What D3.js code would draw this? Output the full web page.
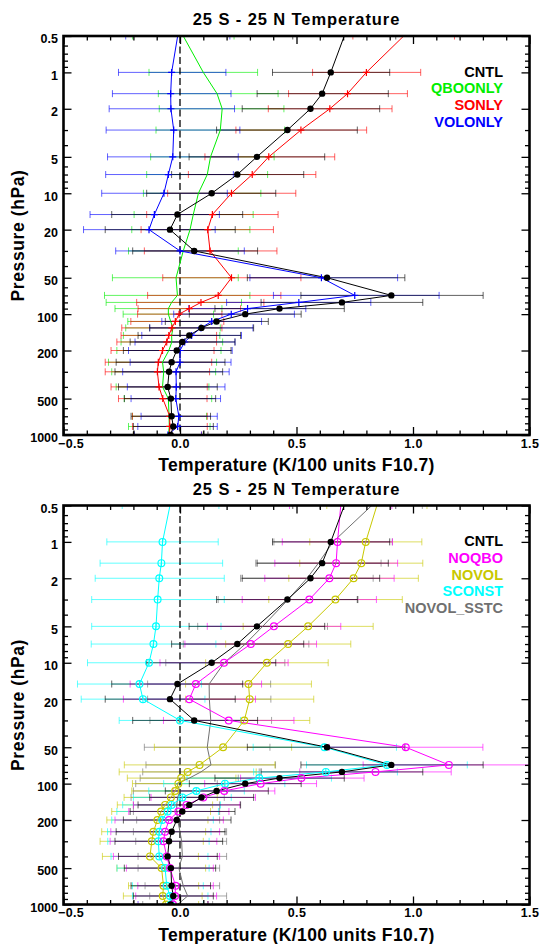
<!DOCTYPE html>
<html><head><meta charset="utf-8">
<script src="https://cdn.jsdelivr.net/npm/d3@7"></script>
<style>
body{margin:0;background:#fff}
text{font-family:"Liberation Sans",Arial,Helvetica,sans-serif;font-weight:bold}
</style>
</head><body>
<svg id="c" width="540" height="944"></svg>
<script>
// ---------- DATA ----------
const levels = [0.5,1,1.5,2,3,5,7,10,15,20,30,50,70,80,90,100,115,130,150,170,200,250,300,400,500,700,850,1000];

const cntl   = [0.705,0.647,0.61,0.56,0.461,0.33,0.246,0.136,-0.011,-0.043,0.061,0.631,0.907,0.695,0.427,0.28,0.157,0.092,0.04,0.01,-0.014,-0.036,-0.047,-0.053,-0.039,-0.036,-0.029,-0.04];
const cntlLo = [0.484,0.397,0.331,0.267,0.157,0.039,-0.036,-0.143,-0.293,-0.321,-0.203,0.289,0.519,0.348,0.15,0.04,-0.063,-0.13,-0.18,-0.214,-0.243,-0.274,-0.279,-0.264,-0.239,-0.21,-0.2,-0.2];
const cntlHi = [0.926,0.9,0.894,0.857,0.761,0.621,0.531,0.411,0.269,0.237,0.333,0.965,1.301,1.042,0.705,0.52,0.379,0.316,0.26,0.236,0.219,0.193,0.183,0.16,0.153,0.131,0.143,0.12];

const qbo   = [0.014,0.1,0.159,0.181,0.173,0.131,0.117,0.079,0.057,0.043,0.014,-0.017,-0.011,-0.036,-0.05,-0.05,-0.04,-0.03,-0.036,-0.035,-0.048,-0.075,-0.07,-0.075,-0.05,-0.047,-0.046,-0.05];
const qboLo = [-0.204,-0.133,-0.093,-0.089,-0.103,-0.126,-0.143,-0.157,-0.197,-0.207,-0.221,-0.29,-0.324,-0.317,-0.279,-0.244,-0.224,-0.233,-0.243,-0.253,-0.271,-0.307,-0.293,-0.274,-0.239,-0.204,-0.221,-0.2];
const qboHi = [0.232,0.333,0.421,0.446,0.449,0.404,0.376,0.347,0.314,0.3,0.25,0.25,0.3,0.264,0.18,0.144,0.15,0.173,0.171,0.183,0.176,0.157,0.153,0.124,0.136,0.114,0.129,0.1];

const son   = [0.96,0.8,0.719,0.643,0.519,0.381,0.31,0.221,0.139,0.119,0.129,0.221,0.164,0.09,0.04,-0.004,-0.02,-0.035,-0.048,-0.057,-0.075,-0.093,-0.097,-0.09,-0.074,-0.044,-0.044,-0.045];
const sonLo = [0.742,0.569,0.466,0.379,0.24,0.107,0.036,-0.053,-0.143,-0.167,-0.153,-0.074,-0.139,-0.186,-0.18,-0.182,-0.211,-0.25,-0.253,-0.271,-0.296,-0.321,-0.321,-0.296,-0.264,-0.204,-0.204,-0.2];
const sonHi = [1.178,1.033,0.976,0.91,0.801,0.664,0.583,0.497,0.421,0.401,0.416,0.519,0.433,0.36,0.26,0.18,0.188,0.18,0.157,0.157,0.146,0.136,0.127,0.117,0.116,0.117,0.117,0.093];

const vol   = [-0.01,-0.036,-0.04,-0.039,-0.027,-0.031,-0.05,-0.069,-0.11,-0.133,0.0,0.607,0.75,0.51,0.29,0.22,0.136,0.09,0.05,0.02,0.0,0.0,-0.017,-0.016,-0.018,-0.005,-0.01,-0.052];
const volLo = [-0.233,-0.264,-0.29,-0.304,-0.317,-0.311,-0.319,-0.336,-0.386,-0.414,-0.276,0.3,0.401,0.2,0.037,-0.027,-0.078,-0.13,-0.164,-0.193,-0.221,-0.214,-0.246,-0.226,-0.21,-0.167,-0.181,-0.196];
const volHi = [0.214,0.197,0.219,0.234,0.257,0.25,0.229,0.203,0.169,0.151,0.276,0.934,1.112,0.819,0.54,0.491,0.35,0.313,0.264,0.236,0.224,0.219,0.211,0.193,0.174,0.16,0.16,0.092];

const noqbo   = [0.69,0.676,0.67,0.641,0.555,0.403,0.304,0.189,0.068,0.04,0.209,0.969,1.154,0.839,0.521,0.346,0.19,0.1,0.028,-0.007,-0.047,-0.064,-0.071,-0.057,-0.043,-0.019,-0.021,-0.03];
const noqboLo = [0.47,0.439,0.407,0.364,0.267,0.117,0.021,-0.086,-0.214,-0.243,-0.071,0.64,0.786,0.514,0.26,0.106,-0.03,-0.124,-0.2,-0.22,-0.279,-0.297,-0.3,-0.286,-0.23,-0.181,-0.19,-0.18];
const noqboHi = [0.909,0.912,0.934,0.919,0.843,0.69,0.586,0.464,0.35,0.324,0.489,1.3,1.52,1.164,0.79,0.586,0.407,0.324,0.257,0.21,0.186,0.17,0.158,0.17,0.143,0.143,0.157,0.12];

const novol   = [0.845,0.797,0.778,0.745,0.667,0.55,0.464,0.373,0.294,0.299,0.276,0.185,0.084,0.033,0.005,-0.007,-0.021,-0.039,-0.064,-0.081,-0.097,-0.114,-0.121,-0.129,-0.079,-0.071,-0.074,-0.06];
const novolLo = [0.63,0.557,0.514,0.467,0.381,0.271,0.196,0.11,0.024,0.024,-0.005,-0.11,-0.239,-0.261,-0.226,-0.204,-0.207,-0.24,-0.269,-0.293,-0.314,-0.336,-0.343,-0.333,-0.271,-0.221,-0.243,-0.2];
const novolHi = [1.06,1.038,1.042,1.023,0.954,0.829,0.733,0.636,0.564,0.574,0.557,0.479,0.407,0.327,0.24,0.19,0.165,0.16,0.14,0.131,0.12,0.11,0.1,0.079,0.11,0.08,0.095,0.08];

const sconst   = [-0.043,-0.075,-0.08,-0.089,-0.096,-0.103,-0.114,-0.133,-0.174,-0.159,0.0,0.62,0.888,0.626,0.34,0.193,0.07,0.01,-0.036,-0.053,-0.076,-0.089,-0.093,-0.089,-0.064,-0.057,-0.043,-0.04];
const sconstLo = [-0.248,-0.314,-0.343,-0.364,-0.379,-0.379,-0.381,-0.397,-0.44,-0.424,-0.261,0.314,0.543,0.316,0.03,-0.07,-0.134,-0.2,-0.246,-0.271,-0.293,-0.311,-0.31,-0.296,-0.27,-0.204,-0.204,-0.18];
const sconstHi = [0.167,0.164,0.183,0.19,0.19,0.176,0.154,0.136,0.092,0.107,0.26,0.929,1.233,0.933,0.65,0.45,0.276,0.22,0.174,0.165,0.143,0.133,0.125,0.12,0.125,0.1,0.12,0.1];

const sstc   = [0.823,0.657,0.594,0.545,0.464,0.355,0.28,0.19,0.125,0.126,0.132,0.117,0.133,0.09,0.04,-0.014,0.0,-0.01,-0.014,-0.014,-0.01,0.0,0.007,0.01,-0.005,0.014,0.033,-0.01];
const sstcLo = [0.6,0.403,0.325,0.26,0.164,0.076,0.014,-0.061,-0.139,-0.139,-0.129,-0.153,-0.146,-0.16,-0.171,-0.19,-0.2,-0.21,-0.2,-0.2,-0.186,-0.2,-0.19,-0.18,-0.18,-0.15,-0.13,-0.16];
const sstcHi = [1.04,0.911,0.863,0.829,0.764,0.633,0.553,0.45,0.389,0.39,0.393,0.386,0.41,0.34,0.25,0.16,0.2,0.19,0.17,0.17,0.17,0.2,0.2,0.2,0.17,0.17,0.2,0.14];

const yTickLabels = [0.5,1,2,5,10,20,50,100,200,500,1000];
const xTickLabels = [-0.5,0.0,0.5,1.0,1.5];
const titleText = "25 S - 25 N Temperature";
const xTitle = "Temperature (K/100 units F10.7)";
const yTitle = "Pressure (hPa)";

// ---------- DRAW ----------
const svg = d3.select('#c');
svg.append('rect').attr('width',540).attr('height',944).attr('fill','#fff');
const L = 63.5, R = 529.5, H = 399;
const x = d3.scaleLinear().domain([-0.5,1.5]).range([L,R]);

function minorLog(){
  const out=[];
  [0.1,1,10,100].forEach(d=>{for(let k=1;k<=9;k++){const v=+(k*d).toFixed(4); if(v>=0.5&&v<=1000&&!yTickLabels.includes(v)) out.push(v);}});
  return out;
}

function panel(idx, top, series, legend){
  const B = top+H;
  const y = d3.scaleLog().domain([0.5,1000]).range([top,B]);
  const g = svg.append('g');
  const cid = 'clip'+idx;
  g.append('clipPath').attr('id',cid).append('rect').attr('x',L).attr('y',top).attr('width',R-L).attr('height',H);
  const pg = g.append('g').attr('clip-path',`url(#${cid})`);

  // error bars
  series.forEach(s=>{
    const eg = pg.append('g').attr('stroke',s.color).attr('stroke-opacity',0.62).attr('stroke-width',1);
    levels.forEach((p,i)=>{
      const yy=y(p), x0=x(s.lo[i]), x1=x(s.hi[i]);
      eg.append('line').attr('x1',x0).attr('x2',x1).attr('y1',yy).attr('y2',yy);
      eg.append('line').attr('x1',x0).attr('x2',x0).attr('y1',yy-3.5).attr('y2',yy+3.5);
      eg.append('line').attr('x1',x1).attr('x2',x1).attr('y1',yy-3.5).attr('y2',yy+3.5);
    });
  });
  // zero line
  pg.append('line').attr('x1',x(0)).attr('x2',x(0)).attr('y1',top).attr('y2',B)
    .attr('stroke','#000').attr('stroke-width',1.3).attr('stroke-dasharray','7,3.5');
  // lines
  const line = d3.line().x(d=>x(d[1])).y(d=>y(d[0]));
  series.forEach(s=>{
    pg.append('path').attr('d',line(levels.map((p,i)=>[p,s.v[i]])))
      .attr('fill','none').attr('stroke',s.color).attr('stroke-width',1);
  });
  // markers
  series.forEach(s=>{
    const mg = pg.append('g');
    levels.forEach((p,i)=>{
      if(p<1) return;
      const cx=x(s.v[i]), cy=y(p);
      if(s.mark==='dot') mg.append('circle').attr('cx',cx).attr('cy',cy).attr('r',3.2).attr('fill',s.color);
      else if(s.mark==='ring') mg.append('circle').attr('cx',cx).attr('cy',cy).attr('r',3.4).attr('fill','none').attr('stroke',s.color).attr('stroke-width',1.2);
      else if(s.mark==='oplus'){
        mg.append('circle').attr('cx',cx).attr('cy',cy).attr('r',3.4).attr('fill','none').attr('stroke',s.color).attr('stroke-width',1.2);
        mg.append('line').attr('x1',cx).attr('x2',cx).attr('y1',cy-3.4).attr('y2',cy+3.4).attr('stroke',s.color);
      } else if(s.mark==='plus'){
        mg.append('line').attr('x1',cx).attr('x2',cx).attr('y1',cy-3.5).attr('y2',cy+3.5).attr('stroke',s.color).attr('stroke-width',1.2);
        mg.append('line').attr('x1',cx-3.5).attr('x2',cx+3.5).attr('y1',cy).attr('y2',cy).attr('stroke',s.color).attr('stroke-width',1.2);
      }
    });
  });

  // axes
  const fmtY = d=> String(d);
  const ax = (gen, tr)=>{ const a=g.append('g').attr('transform',tr).call(gen); a.select('.domain').remove(); a.selectAll('line').attr('stroke','#000').attr('stroke-width',1.3); return a; };
  const yl = ax(d3.axisLeft(y).tickValues(yTickLabels).tickSize(-8).tickPadding(5.5).tickFormat(fmtY), `translate(${L},0)`);
  yl.selectAll('text').attr('font-size',12.5).attr('dy','0.55em').attr('fill','#000');
  ax(d3.axisLeft(y).tickValues(minorLog()).tickSize(-4.5).tickFormat(''), `translate(${L},0)`);
  ax(d3.axisRight(y).tickValues(yTickLabels).tickSize(-8).tickFormat(''), `translate(${R},0)`);
  ax(d3.axisRight(y).tickValues(minorLog()).tickSize(-4.5).tickFormat(''), `translate(${R},0)`);
  const xminor = d3.range(-5,16).map(k=>k/10).filter(v=>!xTickLabels.some(t=>Math.abs(t-v)<1e-6));
  const xb = ax(d3.axisBottom(x).tickValues(xTickLabels).tickSize(-8).tickPadding(4).tickFormat(d3.format('.1f')), `translate(0,${B})`);
  xb.selectAll('text').attr('font-size',12.5).attr('letter-spacing',0.3).attr('fill','#000')
    .attr('dx',d=> d<0 ? 7 : 0);
  ax(d3.axisBottom(x).tickValues(xminor).tickSize(-4.5).tickFormat(''), `translate(0,${B})`);
  ax(d3.axisTop(x).tickValues(xTickLabels).tickSize(-8).tickFormat(''), `translate(0,${top})`);
  ax(d3.axisTop(x).tickValues(xminor).tickSize(-4.5).tickFormat(''), `translate(0,${top})`);

  // frame
  g.append('rect').attr('x',L).attr('y',top).attr('width',R-L).attr('height',H)
    .attr('fill','none').attr('stroke','#000').attr('stroke-width',2.6);

  // titles
  g.append('text').attr('x',(L+R)/2).attr('y',top-11).attr('text-anchor','middle')
    .attr('font-size',16.5).attr('letter-spacing',0.9).text(titleText);
  g.append('text').attr('x',(L+R)/2).attr('y',B+36).attr('text-anchor','middle')
    .attr('font-size',17.5).attr('letter-spacing',0.4).text(xTitle);
  g.append('text').attr('transform',`translate(24,${(top+B)/2}) rotate(-90)`).attr('text-anchor','middle')
    .attr('font-size',17.5).attr('letter-spacing',0.6).text(yTitle);

  // legend
  legend.forEach((s,i)=>{
    g.append('text').attr('x',503).attr('y',top+40.5+i*16.8).attr('text-anchor','end')
      .attr('font-size',14.5).attr('fill',s.color).text(s.name);
  });
}

const sCNTL   = {name:'CNTL', color:'#000000', v:cntl, lo:cntlLo, hi:cntlHi, mark:'dot'};
const sQBO    = {name:'QBOONLY', color:'#00ee00', v:qbo, lo:qboLo, hi:qboHi, mark:'none'};
const sSON    = {name:'SONLY', color:'#ff0000', v:son, lo:sonLo, hi:sonHi, mark:'plus'};
const sVOL    = {name:'VOLONLY', color:'#0000ff', v:vol, lo:volLo, hi:volHi, mark:'plus'};
const sNOQBO  = {name:'NOQBO', color:'#ff00ff', v:noqbo, lo:noqboLo, hi:noqboHi, mark:'ring'};
const sNOVOL  = {name:'NOVOL', color:'#c8c800', v:novol, lo:novolLo, hi:novolHi, mark:'ring'};
const sSCONST = {name:'SCONST', color:'#00ffff', v:sconst, lo:sconstLo, hi:sconstHi, mark:'oplus'};
const sSSTC   = {name:'NOVOL_SSTC', color:'#707070', v:sstc, lo:sstcLo, hi:sstcHi, mark:'none'};

panel(0, 36, [sQBO, sSON, sVOL, sCNTL], [sCNTL, sQBO, sSON, sVOL]);
panel(1, 505.5, [sSSTC, sNOVOL, sSCONST, sNOQBO, sCNTL], [sCNTL, sNOQBO, sNOVOL, sSCONST, sSSTC]);
</script>
</body></html>
